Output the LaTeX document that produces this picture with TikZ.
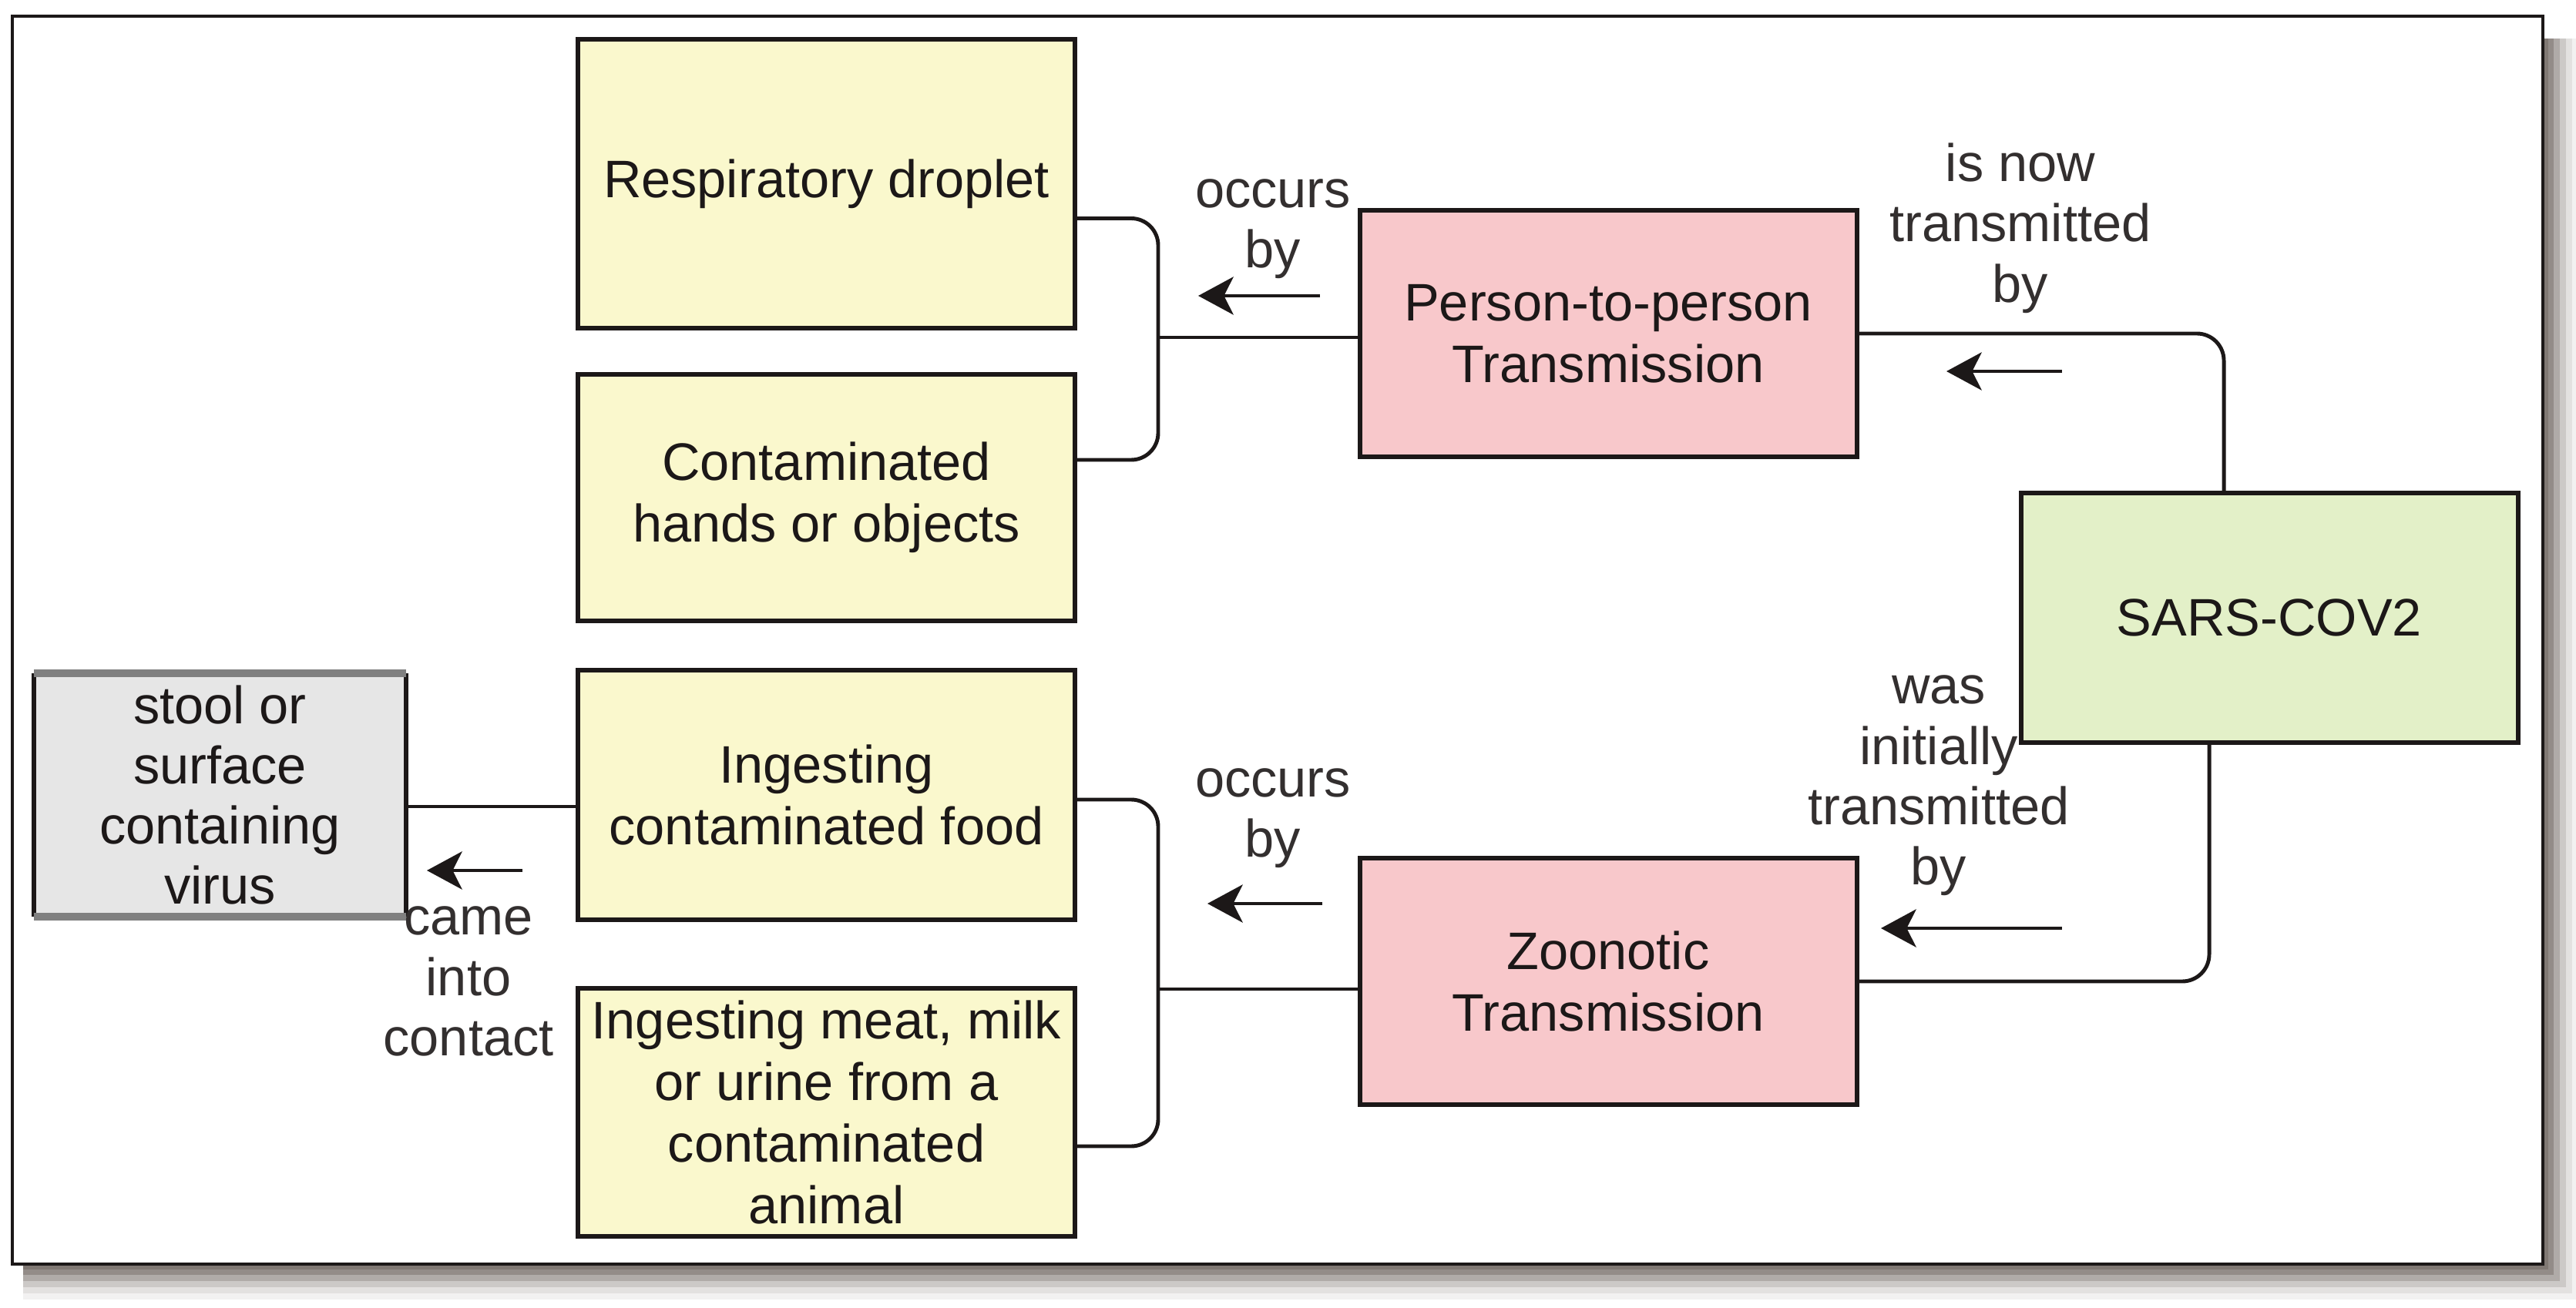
\documentclass[tikz,border=0pt]{standalone}
\usepackage{fontspec}
\setmainfont{Liberation Sans}
\usetikzlibrary{arrows.meta,positioning,calc}
\definecolor{boxyellow}{RGB}{250,248,205}
\definecolor{boxpink}{RGB}{248,200,203}
\definecolor{boxgreen}{RGB}{227,240,200}
\definecolor{boxgray}{RGB}{230,230,230}
\definecolor{ink}{RGB}{28,24,24}
\definecolor{shade}{RGB}{128,120,115}

\begin{document}
\begin{tikzpicture}[
    box/.style={draw=ink, line width=1.7pt, minimum width=6.45cm, minimum height=3.2cm, align=center, inner sep=1pt, font=\fontsize{19.5}{22.8}\selectfont, text=ink},
    src/.style={box, fill=boxyellow},
    mode/.style={box, fill=boxpink},
    virus/.style={box, fill=boxgreen, minimum height=3.24cm},
    lbl/.style={align=center, inner sep=0pt, font=\fontsize{19.5}{22.3}\selectfont, text=ink!90},
    link/.style={line width=1.4pt, draw=ink, rounded corners=0.35cm},
    arr/.style={-{Stealth[length=13pt, width=14pt, inset=3.5pt]}, line width=1.2pt, draw=ink}
]
\useasboundingbox (0,0) rectangle (33.43,-16.98);
\fill[white] (0,0) rectangle (33.43,-16.98);

% frame and shadow
\foreach \d/\c in {0.46/10, 0.38/22, 0.30/40, 0.22/62, 0.14/85, 0.07/100}
    \fill[shade!\c] (0.3,-0.5) rectangle (33.00+\d,-16.41-\d);
\draw[ink, line width=0.9pt, fill=white] (0.16,-0.21) rectangle (33.00,-16.41);

% boxes
\node[src, minimum height=3.75cm] (resp) at (10.725,-2.385) {Respiratory droplet};
\node[src] (hands) at (10.725,-6.46) {Contaminated\\hands or objects};
\node[src, minimum height=3.24cm] (food) at (10.725,-10.32) {Ingesting\\contaminated food};
\node[src, minimum height=3.22cm] (meat) at (10.725,-14.44) {Ingesting meat, milk\\or urine from a\\contaminated\\animal};
\node[box, draw=none, fill=boxgray, minimum width=4.77cm, minimum height=3.1cm, inner sep=0pt, font=\fontsize{19.5}{22.2}\selectfont] (stool) at (2.855,-10.32) {stool or\\surface\\containing\\virus};
\draw[ink, line width=1.5pt] (stool.north west) -- (stool.south west) (stool.north east) -- (stool.south east);
\draw[gray, line width=2.6pt] (stool.north west) -- (stool.north east) (stool.south west) -- (stool.south east);
\node[mode] (p2p) at (20.87,-4.33) {Person-to-person\\Transmission};
\node[mode] (zoo) at (20.87,-12.74) {Zoonotic\\Transmission};
\node[virus] (sars) at (29.45,-8.02) {SARS-COV2};

\coordinate (jtop) at (15.03,-4.38);
\coordinate (jbot) at (15.03,-12.84);

% connectors
\draw[link] ([yshift=-0.45cm]resp.east) -| (jtop) |- ([yshift=0.49cm]hands.east);
\draw[link] (jtop) -- (jtop -| p2p.west);
\draw[link] ([yshift=-0.06cm]food.east) -| (jbot) |- ([yshift=-0.44cm]meat.east);
\draw[link] (jbot) -- (jbot -| zoo.west);
\draw[link] (p2p.east) -| ([xshift=-0.59cm]sars.north);
\draw[link] ([xshift=-0.78cm]sars.south) |- (zoo.east);
\draw[link] ([yshift=-0.15cm]food.west) -- ([yshift=-0.15cm]stool.east);

% labels
\node[lbl] (occurs1) at (16.52,-2.97) {occurs\\by};
\node[lbl] (occurs2) at (16.52,-10.62) {occurs\\by};
\node[lbl] (nowby) at (26.22,-2.96) {is now\\transmitted\\by};
\node[lbl] (initby) at (25.16,-10.20) {was\\initially\\transmitted\\by};
\node[lbl] (contact) at (6.08,-12.74) {came\\into\\contact};

\draw[arr] ($(occurs1)+(0.61,-0.87)$) -- ++(-1.58,0);
\draw[arr] ($(occurs2)+(0.64,-1.11)$) -- ++(-1.49,0);
\draw[arr] ($(nowby)+(0.54,-1.86)$) -- ++(-1.50,0);
\draw[arr] ($(initby)+(1.60,-1.85)$) -- ++(-2.35,0);
\draw[arr] ($(contact)+(0.70,1.44)$) -- ++(-1.24,0);
\end{tikzpicture}
\end{document}
